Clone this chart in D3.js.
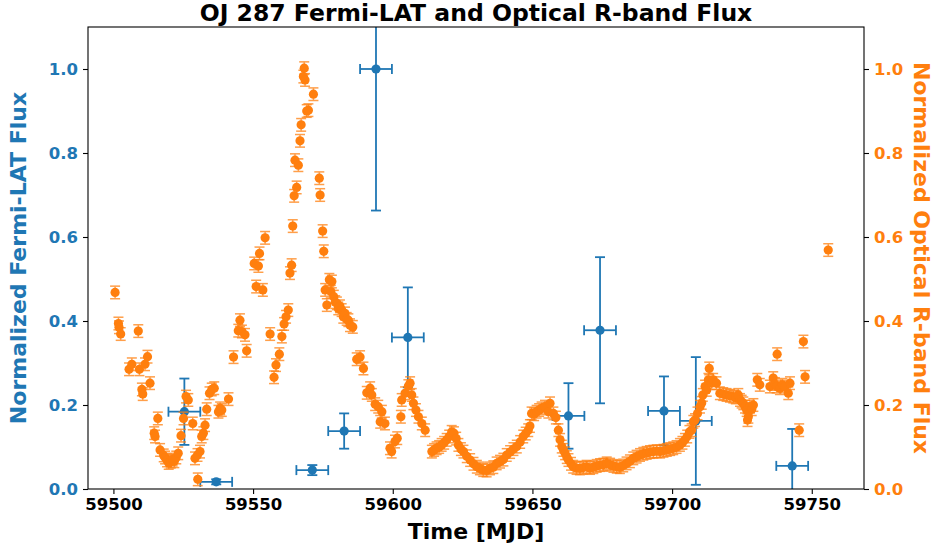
<!DOCTYPE html>
<html>
<head>
<meta charset="utf-8">
<script src="https://cdn.jsdelivr.net/npm/d3@7"></script>
<style>
  body { margin: 0; background: white; }
  svg { font-family: "DejaVu Sans", sans-serif; }
</style>
</head>
<body>
<svg id="chart" width="933" height="548"></svg>
<script>
// Fermi-LAT binned light curve (MJD centre, normalized flux, errors)
const fermiMJD  = [59525.4, 59536.8, 59571.2, 59582.6, 59594.0, 59605.4, 59662.9, 59674.2, 59697.1, 59708.5, 59743.0];
const fermiFlux = [0.184, 0.017, 0.045, 0.138, 1.000, 0.361, 0.174, 0.378, 0.186, 0.162, 0.055];
const fermiErr  = [0.079, 0.006, 0.012, 0.042, 0.337, 0.119, 0.078, 0.174, 0.082, 0.152, 0.088];
const fermiBinHalf = 5.7;

// Optical R-band light curve
const opticalMJD = [
  59500.6, 59501.8, 59502.0, 59502.6, 59505.6, 59506.6, 59508.9, 59509.3, 59510.2, 59510.5,
  59511.3, 59512.2, 59513.1, 59514.6, 59514.9, 59515.9, 59516.7, 59518.0, 59518.5, 59519.2,
  59519.8, 59520.5, 59521.2, 59521.8, 59522.5, 59523.2, 59524.2, 59525.1, 59526.0, 59526.8,
  59528.4, 59529.2, 59530.1, 59530.2, 59531.0, 59531.6, 59532.2, 59532.8, 59533.4, 59534.4,
  59535.2, 59536.1, 59537.6, 59538.2, 59538.8, 59541.2, 59543.0, 59544.7, 59545.3, 59546.0,
  59547.1, 59547.7, 59550.4, 59551.1, 59551.9, 59552.3, 59553.5, 59554.3, 59556.1, 59557.5,
  59558.2, 59559.4, 59560.3, 59561.1, 59561.8, 59562.6, 59563.2, 59563.8, 59564.2, 59564.7,
  59565.0, 59565.6, 59566.2, 59566.8, 59567.2, 59568.0, 59568.3, 59568.6, 59569.2, 59569.8,
  59571.6, 59573.7, 59574.0, 59574.9, 59575.3, 59575.8, 59576.4, 59577.3, 59577.8, 59578.2,
  59578.9, 59579.4, 59580.0, 59580.5, 59581.1, 59581.7, 59582.3, 59582.9, 59583.5, 59584.1,
  59584.7, 59585.7, 59587.1, 59588.3, 59589.5, 59590.7, 59591.9, 59592.5, 59593.7, 59594.8,
  59595.5, 59596.1, 59597.2, 59599.0, 59599.6, 59600.8, 59601.6, 59602.9, 59603.2, 59604.4,
  59605.6, 59606.2, 59606.8, 59607.4, 59608.3, 59609.2, 59610.4, 59611.6, 59614.0, 59614.8,
  59615.7, 59616.6, 59617.5, 59618.4, 59619.3, 59620.2, 59621.1, 59621.9, 59622.7, 59623.5,
  59624.4, 59625.3, 59626.5, 59627.7, 59628.9, 59630.1, 59631.2, 59632.4, 59633.6, 59634.8,
  59636.0, 59637.2, 59638.4, 59639.6, 59640.8, 59642.0, 59643.2, 59644.4, 59645.6, 59646.7,
  59647.6, 59648.5, 59649.1, 59649.7, 59650.6, 59651.5, 59652.4, 59653.3, 59654.5, 59655.7,
  59656.3, 59657.5, 59658.4, 59659.3, 59659.9, 59660.5, 59661.1, 59661.7, 59662.3, 59662.9,
  59663.8, 59664.6, 59665.8, 59667.0, 59668.2, 59669.4, 59670.6, 59671.8, 59673.0, 59674.2,
  59675.4, 59676.6, 59677.8, 59679.0, 59680.2, 59681.3, 59682.5, 59683.7, 59684.9, 59686.1,
  59687.3, 59688.5, 59689.7, 59690.9, 59692.1, 59693.3, 59694.5, 59695.7, 59696.9, 59698.1,
  59699.3, 59700.4, 59701.6, 59702.8, 59703.7, 59704.6, 59705.4, 59706.2, 59707.0, 59707.6,
  59708.2, 59709.1, 59710.0, 59710.6, 59711.0, 59711.8, 59712.4, 59713.0, 59713.3, 59714.1,
  59714.7, 59715.9, 59717.1, 59718.3, 59719.5, 59720.7, 59721.9, 59722.8, 59723.7, 59724.3,
  59724.9, 59725.5, 59726.1, 59726.7, 59727.0, 59727.3, 59727.9, 59728.5, 59729.1, 59730.5,
  59731.4, 59735.0, 59736.2, 59736.8, 59737.4, 59737.6, 59738.6, 59739.5, 59740.4, 59741.6,
  59742.2, 59745.5, 59747.0, 59747.6, 59755.9
];
const opticalFlux = [
  0.468, 0.394, 0.385, 0.369, 0.285, 0.297, 0.376, 0.285, 0.237, 0.226,
  0.297, 0.315, 0.252, 0.133, 0.125, 0.168, 0.093, 0.080, 0.075, 0.068,
  0.062, 0.065, 0.070, 0.066, 0.075, 0.085, 0.127, 0.168, 0.220, 0.212,
  0.156, 0.073, 0.081, 0.023, 0.089, 0.125, 0.133, 0.152, 0.190, 0.228,
  0.237, 0.240, 0.184, 0.192, 0.188, 0.214, 0.314, 0.377, 0.402, 0.375,
  0.367, 0.329, 0.537, 0.482, 0.531, 0.561, 0.474, 0.598, 0.369, 0.266,
  0.295, 0.321, 0.363, 0.393, 0.410, 0.426, 0.514, 0.533, 0.626, 0.698,
  0.783, 0.718, 0.771, 0.829, 0.867, 0.982, 1.002, 0.974, 0.900, 0.902,
  0.940, 0.740, 0.700, 0.614, 0.566, 0.474, 0.438, 0.498, 0.470, 0.494,
  0.458, 0.445, 0.442, 0.430, 0.435, 0.426, 0.410, 0.418, 0.405, 0.402,
  0.390, 0.386, 0.309, 0.314, 0.287, 0.229, 0.240, 0.224, 0.202, 0.196,
  0.160, 0.184, 0.156, 0.097, 0.089, 0.113, 0.121, 0.172, 0.212, 0.228,
  0.245, 0.252, 0.224, 0.204, 0.188, 0.172, 0.156, 0.140, 0.089, 0.093,
  0.097, 0.100, 0.105, 0.110, 0.117, 0.125, 0.136, 0.133, 0.120, 0.105,
  0.095, 0.089, 0.078, 0.069, 0.060, 0.053, 0.049, 0.045, 0.044, 0.049,
  0.052, 0.061, 0.065, 0.070, 0.081, 0.088, 0.095, 0.101, 0.112, 0.125,
  0.132, 0.140, 0.150, 0.180, 0.178, 0.184, 0.188, 0.192, 0.196, 0.184,
  0.204, 0.180, 0.170, 0.140, 0.117, 0.101, 0.093, 0.085, 0.076, 0.069,
  0.060, 0.053, 0.050, 0.049, 0.051, 0.053, 0.050, 0.052, 0.055, 0.057,
  0.058, 0.061, 0.058, 0.055, 0.053, 0.052, 0.056, 0.061, 0.066, 0.073,
  0.077, 0.081, 0.084, 0.086, 0.088, 0.089, 0.090, 0.089, 0.091, 0.093,
  0.095, 0.097, 0.100, 0.105, 0.110, 0.117, 0.125, 0.136, 0.140, 0.160,
  0.164, 0.180, 0.196, 0.205, 0.224, 0.244, 0.236, 0.260, 0.287, 0.252,
  0.260, 0.252, 0.228, 0.226, 0.224, 0.222, 0.220, 0.218, 0.224, 0.212,
  0.208, 0.204, 0.196, 0.188, 0.164, 0.172, 0.196, 0.190, 0.200, 0.260,
  0.248, 0.244, 0.264, 0.250, 0.244, 0.321, 0.240, 0.248, 0.244, 0.228,
  0.252, 0.140, 0.351, 0.267, 0.569
];
const opticalErr = 0.015;

const xTicks = [59500, 59550, 59600, 59650, 59700, 59750];
const yTicks = [0.0, 0.2, 0.4, 0.6, 0.8, 1.0];

const colorFermi = "#1f77b4";
const colorOptical = "#ff7f0e";

const width = 933, height = 548;
const margin = {top: 27, right: 69, bottom: 59, left: 88};

const svg = d3.select("#chart");

const x = d3.scaleLinear().domain([59490.9, 59768.7]).range([margin.left, width - margin.right]);
const yL = d3.scaleLinear().domain([0, 1.1]).range([height - margin.bottom, margin.top]);
const yR = d3.scaleLinear().domain([0, 1.1]).range([height - margin.bottom, margin.top]);

svg.append("defs").append("clipPath").attr("id", "clip")
  .append("rect")
  .attr("x", margin.left).attr("y", margin.top)
  .attr("width", width - margin.left - margin.right)
  .attr("height", height - margin.top - margin.bottom);

const plot = svg.append("g").attr("clip-path", "url(#clip)");

// fermi errorbars + points (drawn first, optical on top like twinx)
const fermi = fermiMJD.map((d, i) => ({t: d, v: fermiFlux[i], e: fermiErr[i]}));
const gF = plot.append("g");
const cap = 5;
fermi.forEach(d => {
  const g = gF.append("g").attr("stroke", colorFermi).attr("stroke-width", 1.8).attr("fill", "none");
  g.append("line").attr("x1", x(d.t - fermiBinHalf)).attr("x2", x(d.t + fermiBinHalf))
    .attr("y1", yL(d.v)).attr("y2", yL(d.v));
  g.append("line").attr("x1", x(d.t)).attr("x2", x(d.t))
    .attr("y1", yL(d.v - d.e)).attr("y2", yL(d.v + d.e));
  g.append("line").attr("x1", x(d.t - fermiBinHalf)).attr("x2", x(d.t - fermiBinHalf))
    .attr("y1", yL(d.v) - cap).attr("y2", yL(d.v) + cap);
  g.append("line").attr("x1", x(d.t + fermiBinHalf)).attr("x2", x(d.t + fermiBinHalf))
    .attr("y1", yL(d.v) - cap).attr("y2", yL(d.v) + cap);
  g.append("line").attr("x1", x(d.t) - cap).attr("x2", x(d.t) + cap)
    .attr("y1", yL(d.v - d.e)).attr("y2", yL(d.v - d.e));
  g.append("line").attr("x1", x(d.t) - cap).attr("x2", x(d.t) + cap)
    .attr("y1", yL(d.v + d.e)).attr("y2", yL(d.v + d.e));
});
gF.selectAll("circle.fermi")
  .data(fermi)
  .enter()
  .append("circle")
  .attr("cx", d => x(d.t))
  .attr("cy", d => yL(d.v))
  .attr("r", 4.6)
  .attr("fill", colorFermi);

// optical
const optical = opticalMJD.map((d, i) => ({t: d, v: opticalFlux[i]}));
const gO = plot.append("g");
optical.forEach(d => {
  const g = gO.append("g").attr("stroke", colorOptical).attr("stroke-width", 1.5).attr("opacity", 0.75);
  g.append("line").attr("x1", x(d.t)).attr("x2", x(d.t))
    .attr("y1", yR(d.v - opticalErr)).attr("y2", yR(d.v + opticalErr));
  g.append("line").attr("x1", x(d.t) - cap).attr("x2", x(d.t) + cap)
    .attr("y1", yR(d.v - opticalErr)).attr("y2", yR(d.v - opticalErr));
  g.append("line").attr("x1", x(d.t) - cap).attr("x2", x(d.t) + cap)
    .attr("y1", yR(d.v + opticalErr)).attr("y2", yR(d.v + opticalErr));
});
gO.selectAll("circle.opt")
  .data(optical)
  .enter()
  .append("circle")
  .attr("cx", d => x(d.t))
  .attr("cy", d => yR(d.v))
  .attr("r", 4.6)
  .attr("fill", colorOptical);

// frame
svg.append("rect")
  .attr("x", margin.left).attr("y", margin.top)
  .attr("width", width - margin.left - margin.right)
  .attr("height", height - margin.top - margin.bottom)
  .attr("fill", "none").attr("stroke", "black").attr("stroke-width", 1.1);

// axes
function styleAxis(g, color) {
  g.select(".domain").remove();
  g.selectAll(".tick line").attr("stroke", "black").attr("stroke-width", 1.1);
  g.selectAll(".tick text")
    .attr("fill", color)
    .attr("font-size", "16.5px")
    .attr("font-weight", "bold")
    .attr("font-family", "DejaVu Sans");
}

const xAxis = svg.append("g")
  .attr("transform", `translate(0,${height - margin.bottom})`)
  .call(d3.axisBottom(x).tickValues(xTicks).tickFormat(d3.format("d")).tickSize(5).tickPadding(4));
styleAxis(xAxis, "black");

const yAxisL = svg.append("g")
  .attr("transform", `translate(${margin.left},0)`)
  .call(d3.axisLeft(yL).tickValues(yTicks).tickFormat(d3.format(".1f")).tickSize(5).tickPadding(5));
styleAxis(yAxisL, colorFermi);

const yAxisR = svg.append("g")
  .attr("transform", `translate(${width - margin.right},0)`)
  .call(d3.axisRight(yR).tickValues(yTicks).tickFormat(d3.format(".1f")).tickSize(5).tickPadding(5));
styleAxis(yAxisR, colorOptical);

// labels
svg.append("text")
  .attr("x", (margin.left + width - margin.right) / 2)
  .attr("y", 21)
  .attr("text-anchor", "middle")
  .attr("font-size", "23.5px").attr("font-weight", "bold")
  .text("OJ 287 Fermi-LAT and Optical R-band Flux");

svg.append("text")
  .attr("x", (margin.left + width - margin.right) / 2)
  .attr("y", 539)
  .attr("text-anchor", "middle")
  .attr("font-size", "22px").attr("font-weight", "bold")
  .text("Time [MJD]");

svg.append("text")
  .attr("transform", `translate(26,${(margin.top + height - margin.bottom) / 2}) rotate(-90)`)
  .attr("text-anchor", "middle")
  .attr("font-size", "22px").attr("font-weight", "bold")
  .attr("fill", colorFermi)
  .text("Normalized Fermi-LAT Flux");

svg.append("text")
  .attr("transform", `translate(914,${(margin.top + height - margin.bottom) / 2}) rotate(90)`)
  .attr("text-anchor", "middle")
  .attr("font-size", "22px").attr("font-weight", "bold")
  .attr("fill", colorOptical)
  .text("Normalized Optical R-band Flux");
</script>
</body>
</html>
